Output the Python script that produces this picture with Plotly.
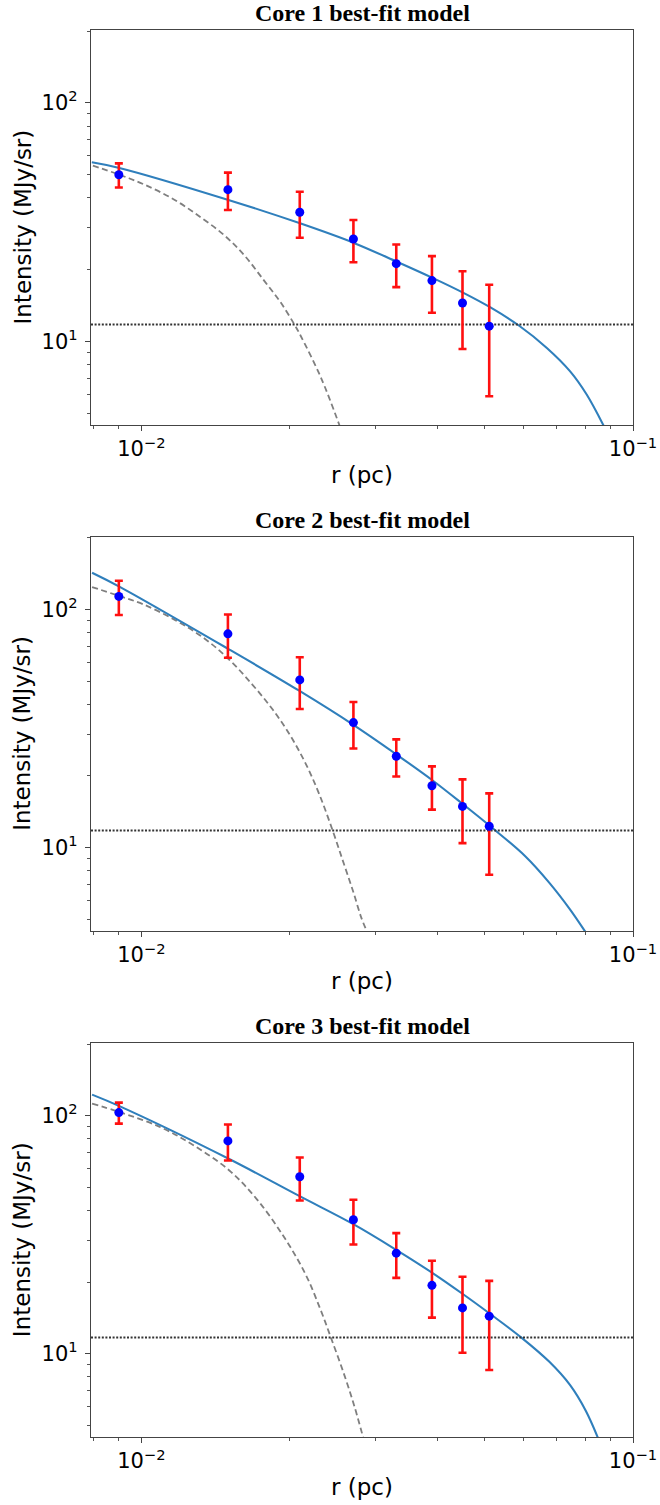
import math
import plotly.graph_objects as go

# ---------------- data ----------------
r_obs = [0.009, 0.015, 0.021, 0.027, 0.033, 0.039, 0.045, 0.051]

titles = ["Core 1 best-fit model", "Core 2 best-fit model", "Core 3 best-fit model"]

# observed intensities (MJy/sr) and 1-sigma errors
I_core1 = [50.0, 43.3, 34.8, 26.9, 21.2, 18.0, 14.5, 11.6]
err_core1 = [5.8, 7.7, 7.6, 5.4, 4.3, 4.8, 5.2, 5.7]

I_core2 = [113.4, 79.0, 50.6, 33.5, 24.2, 18.2, 14.9, 12.3]
err_core2 = [18.6, 16.3, 12.4, 7.4, 4.3, 3.75, 4.45, 4.6]

I_core3 = [103.3, 78.5, 55.5, 36.6, 26.5, 19.4, 15.6, 14.4]
err_core3 = [10.45, 13.5, 11.4, 7.8, 5.65, 5.2, 5.5, 5.85]

# background level (dotted line)
bg_level = [11.8, 11.8, 11.7]

# best-fit model curves (solid blue)
model1_r = [0.00793, 0.00902, 0.01498, 0.0211, 0.02705, 0.0331, 0.0393, 0.0452,
            0.0513, 0.0585, 0.0668, 0.0745, 0.0805, 0.0871]
model1_I = [56.4, 53.4, 39.3, 31.2, 25.9, 21.6, 18.4, 16.0, 13.9, 11.7, 9.4,
            7.5, 6.0, 4.45]

model2_r = [0.00794, 0.009, 0.01502, 0.02094, 0.02704, 0.03305, 0.0392, 0.04514,
            0.05125, 0.0603, 0.0676, 0.0745, 0.0802]
model2_I = [142.6, 125.0, 68.3, 45.6, 32.7, 24.6, 19.1, 15.2, 12.3, 9.23, 7.12,
            5.50, 4.40]

model3_r = [0.00794, 0.009, 0.01502, 0.02094, 0.02704, 0.03305, 0.0392, 0.04514,
            0.05125, 0.0593, 0.0676, 0.0745, 0.0802, 0.0849]
model3_I = [122.9, 110.2, 66.2, 46.1, 35.0, 27.3, 21.8, 17.8, 14.7, 11.7, 9.25,
            7.38, 5.75, 4.42]

# beam / inner component curves (dashed grey)
beam1_r = [0.00797, 0.00902, 0.01014, 0.01167, 0.01322, 0.01474, 0.01619, 0.01777,
           0.0192, 0.0205, 0.0211, 0.0232, 0.0253]
beam1_I = [54.6, 50.0, 45.5, 39.3, 33.1, 27.9, 23.0, 18.0, 14.6, 11.75, 10.55,
           7.05, 4.45]

beam2_r = [0.00794, 0.009, 0.0101, 0.0118, 0.0135, 0.0151, 0.0168, 0.0185, 0.0201,
           0.0216, 0.0230, 0.0245, 0.0258, 0.0270, 0.0280, 0.0289]
beam2_I = [124.2, 114.0, 105.0, 89.5, 75.0, 61.5, 48.5, 38.0, 29.5, 22.5, 16.8,
           11.8, 8.6, 6.5, 5.1, 4.35]

beam3_r = [0.00794, 0.009, 0.0109, 0.0128, 0.0151, 0.0172, 0.0196, 0.0216, 0.0231,
           0.0243, 0.0259, 0.0272, 0.0283]
beam3_I = [112.7, 104.0, 90.0, 75.0, 59.0, 44.5, 30.5, 21.5, 15.5, 11.7, 8.1,
           5.9, 4.4]

# axes
x_range = [0.0079, 0.1]
y_range = [4.47, 202.0]
x_major = [0.01, 0.1]
x_major_text = ["10<sup>\u22122</sup>", "10<sup>\u22121</sup>"]
x_minor = [0.008, 0.009, 0.02, 0.03, 0.04, 0.05, 0.06, 0.07, 0.08, 0.09]
y_major = [10, 100]
y_major_text = ["10<sup>1</sup>", "10<sup>2</sup>"]
y_minor = [5, 6, 7, 8, 9, 20, 30, 40, 50, 60, 70, 80, 90, 200]

obs = [I_core1, I_core2, I_core3]
errs = [err_core1, err_core2, err_core3]
models = [(model1_r, model1_I), (model2_r, model2_I), (model3_r, model3_I)]
beams = [(beam1_r, beam1_I), (beam2_r, beam2_I), (beam3_r, beam3_I)]

# ---------------- layout geometry ----------------
W, H = 660, 1505
ML, MR, MT, MB = 91, 27, 30, 68
PH = H - MT - MB
PW = W - ML - MR
panel_tops = [30, 536.7, 1043.3]
panel_bottoms = [425, 931, 1437]


def py(ypx):
    return (H - MB - ypx) / PH


def px(xpx):
    return (xpx - ML) / PW


fig = go.Figure()
layout = dict(
    width=W, height=H, autosize=False,
    margin=dict(l=ML, r=MR, t=MT, b=MB, autoexpand=False),
    paper_bgcolor="white", plot_bgcolor="white",
    showlegend=False,
    font=dict(family="DejaVu Sans", color="black"),
)
annotations = []

for i in range(3):
    xa = "x" if i == 0 else f"x{i+1}"
    ya = "y" if i == 0 else f"y{i+1}"
    mr, mI = models[i]
    br, bI = beams[i]
    fig.add_trace(go.Scatter(x=br, y=bI, mode="lines", xaxis=xa, yaxis=ya,
                             line=dict(color="#7f7f7f", width=1.8, dash="6px,3.5px",
                                       shape="spline", smoothing=1.0)))
    fig.add_trace(go.Scatter(x=mr, y=mI, mode="lines", xaxis=xa, yaxis=ya,
                             line=dict(color="#2f7fbc", width=2.1,
                                       shape="spline", smoothing=1.0)))
    fig.add_trace(go.Scatter(x=x_range, y=[bg_level[i], bg_level[i]], mode="lines",
                             xaxis=xa, yaxis=ya,
                             line=dict(color="#333333", width=2, dash="2px,1.6px")))
    fig.add_trace(go.Scatter(x=r_obs, y=obs[i], mode="markers", xaxis=xa, yaxis=ya,
                             marker=dict(color="#0000ff", size=9),
                             error_y=dict(type="data", array=errs[i], visible=True,
                                          color="#ff1010", thickness=2.6, width=4)))

    dom = [py(panel_bottoms[i]), py(panel_tops[i])]
    axis_common = dict(type="log", showline=True, mirror=True, linecolor="#444444",
                       linewidth=1.3, ticks="outside", ticklen=5, tickwidth=1.2,
                       tickcolor="#444444", showgrid=False, zeroline=False,
                       automargin=False,
                       tickfont=dict(family="DejaVu Sans", size=21, color="black"))
    layout["xaxis" if i == 0 else f"xaxis{i+1}"] = dict(
        axis_common, domain=[0, 1], anchor=ya,
        range=[math.log10(x_range[0]), math.log10(x_range[1])],
        tickmode="array", tickvals=x_major, ticktext=x_major_text,
        minor=dict(tickmode="array", tickvals=x_minor, ticks="outside", ticklen=3,
                   tickwidth=1, tickcolor="#555555"))
    layout["yaxis" if i == 0 else f"yaxis{i+1}"] = dict(
        axis_common, domain=dom, anchor=xa, ticklabelstandoff=3,
        range=[math.log10(y_range[0]), math.log10(y_range[1])],
        tickmode="array", tickvals=y_major, ticktext=y_major_text,
        minor=dict(tickmode="array", tickvals=y_minor, ticks="outside", ticklen=3,
                   tickwidth=1, tickcolor="#555555"))

    # panel title
    annotations.append(dict(text=f"<b>{titles[i]}</b>", xref="paper", yref="paper",
                            x=px(362), y=py(panel_tops[i] - 17), showarrow=False,
                            xanchor="center", yanchor="middle",
                            font=dict(family="Liberation Serif", size=24, color="black")))
    # x axis title
    annotations.append(dict(text="r (pc)", xref="paper", yref="paper",
                            x=px(362), y=py(panel_bottoms[i] + 50), showarrow=False,
                            xanchor="center", yanchor="middle",
                            font=dict(family="DejaVu Sans", size=23, color="black")))
    # y axis title
    annotations.append(dict(text="Intensity (MJy/sr)", xref="paper", yref="paper",
                            x=px(22), y=py((panel_tops[i] + panel_bottoms[i]) / 2),
                            showarrow=False, textangle=-90,
                            xanchor="center", yanchor="middle",
                            font=dict(family="DejaVu Sans", size=23, color="black")))

layout["annotations"] = annotations
fig.update_layout(**layout)
fig.write_html("out.html",
               config={"displayModeBar": False},
               post_script="document.body.style.margin='0px';"
                           "document.body.style.padding='0px';")
